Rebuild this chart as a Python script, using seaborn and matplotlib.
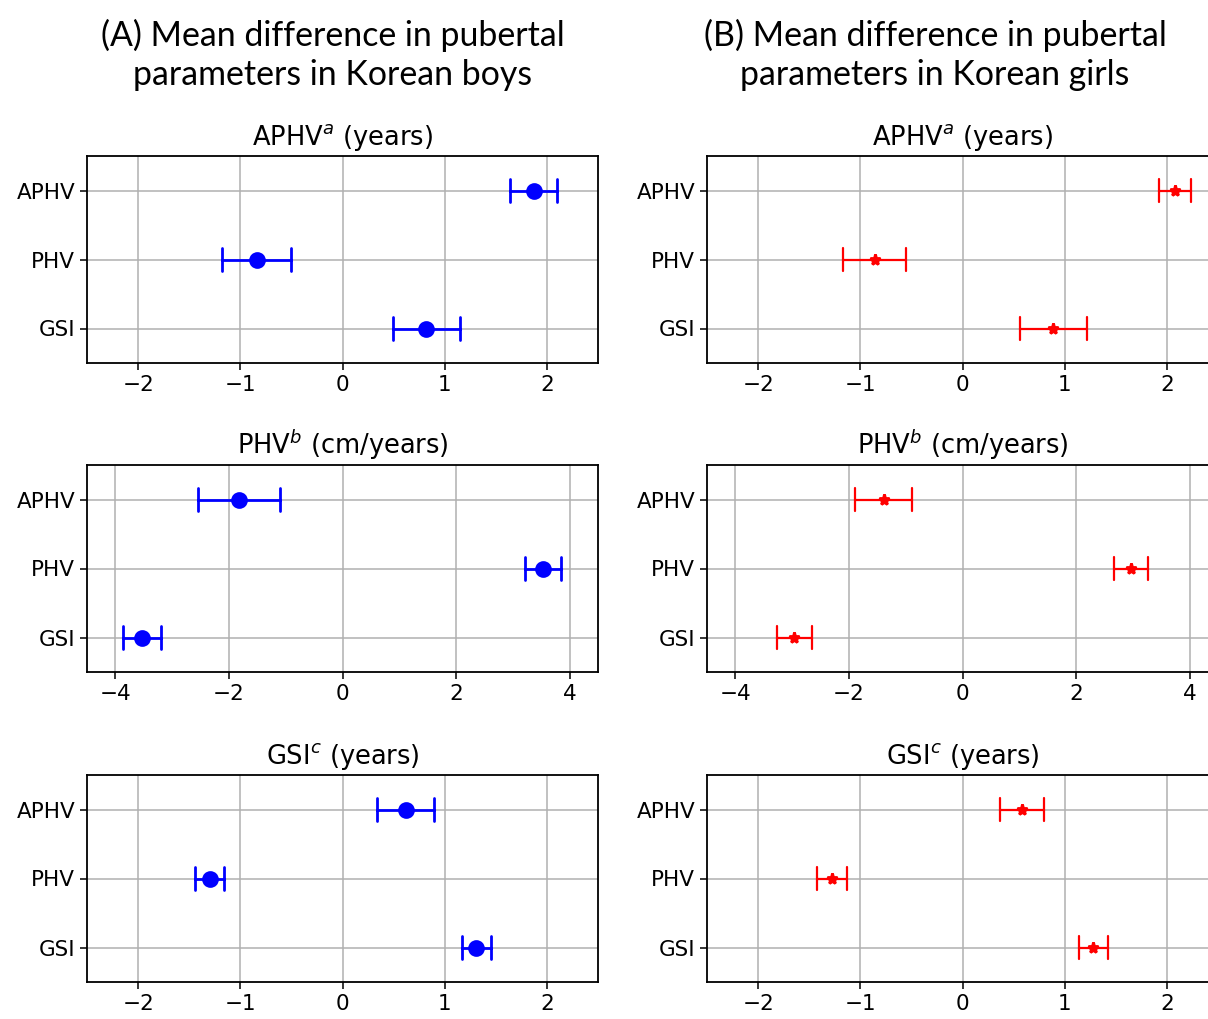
import pandas as pd
import numpy as np
import matplotlib
matplotlib.use("Agg")
import matplotlib.pyplot as plt
import seaborn as sns

params = ["APHV", "PHV", "GSI"]

# boys (A): mean difference and half-width of the error bar
boys_aphv_mean = [1.87, -0.84, 0.82]
boys_aphv_err = [0.23, 0.34, 0.33]
boys_phv_mean = [-1.82, 3.53, -3.53]
boys_phv_err = [0.72, 0.32, 0.34]
boys_gsi_mean = [0.62, -1.30, 1.31]
boys_gsi_err = [0.28, 0.145, 0.145]

# girls (B)
girls_aphv_mean = [2.08, -0.86, 0.89]
girls_aphv_err = [0.16, 0.31, 0.33]
girls_phv_mean = [-1.39, 2.96, -2.96]
girls_phv_err = [0.50, 0.30, 0.31]
girls_gsi_mean = [0.58, -1.28, 1.28]
girls_gsi_err = [0.215, 0.145, 0.14]

panel_titles = [r"APHV$^a$ (years)", r"PHV$^b$ (cm/years)", r"GSI$^c$ (years)"]
panel_limits = [2.5, 4.5, 2.5]
panel_ticks = [[-2, -1, 0, 1, 2], [-4, -2, 0, 2, 4], [-2, -1, 0, 1, 2]]
col_titles = ["(A) Mean difference in pubertal\nparameters in Korean boys",
              "(B) Mean difference in pubertal\nparameters in Korean girls"]


def make_frame(mean, err):
    # lower end, mean, upper end per parameter -> pointplot with min/max interval
    rows = []
    for p, m, e in zip(params, mean, err):
        for v in (m - e, m, m + e):
            rows.append({"param": p, "value": v})
    return pd.DataFrame(rows)


sns.set_style("ticks")
plt.rcParams["font.family"] = ["DejaVu Sans"]
plt.rcParams["text.color"] = "black"
plt.rcParams["xtick.color"] = "black"
plt.rcParams["ytick.color"] = "black"

fig = plt.figure(figsize=(12.08, 10.19), dpi=100)

W, H = 1208, 1019
col_x = [87, 707]
ax_w = 511
row_top = [156, 465, 775]
ax_h = 207

boys = [(boys_aphv_mean, boys_aphv_err), (boys_phv_mean, boys_phv_err), (boys_gsi_mean, boys_gsi_err)]
girls = [(girls_aphv_mean, girls_aphv_err), (girls_phv_mean, girls_phv_err), (girls_gsi_mean, girls_gsi_err)]

for c, (series, color, marker, ms, lw) in enumerate([
        (boys, "blue", "o", 10, 2.0),
        (girls, "red", "*", 8, 1.6)]):
    for r in range(3):
        ax = fig.add_axes([col_x[c] / W, 1 - (row_top[r] + ax_h) / H, ax_w / W, ax_h / H])
        df = make_frame(*series[r])
        sns.pointplot(data=df, x="value", y="param", order=params, estimator="mean",
                      errorbar=("pi", 100), capsize=0.32, linestyle="none",
                      marker=marker, markersize=ms, color=color,
                      err_kws={"linewidth": lw}, ax=ax)
        lim = panel_limits[r]
        ax.set_xlim(-lim, lim)
        ax.set_xticks(panel_ticks[r])
        ax.set_ylim(2.5, -0.5)
        ax.grid(True, color="#b0b0b0", linewidth=1.1)
        ax.set_axisbelow(True)
        ax.set_xlabel("")
        ax.set_ylabel("")
        ax.set_title(panel_titles[r], fontsize=18.5, pad=8, color="black")
        ax.tick_params(labelsize=15.5, length=5, width=1.1, color="black", labelcolor="black")
        for s in ax.spines.values():
            s.set_color("black")
            s.set_linewidth(1.3)

title_x = [333, 935]
for c in range(2):
    fig.text(title_x[c] / W, 1 - 55 / H, col_titles[c], ha="center", va="center",
             fontsize=24.4, family=["Lato", "DejaVu Sans"], linespacing=1.3, color="black")

fig.savefig("out.png", dpi=100)
